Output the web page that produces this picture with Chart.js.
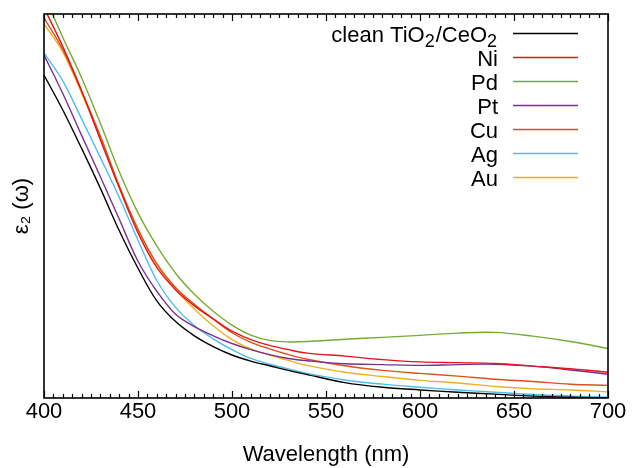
<!DOCTYPE html>
<html>
<head>
<meta charset="utf-8">
<script src="https://cdn.jsdelivr.net/npm/chart.js@4"></script>
<style>
  html, body { margin: 0; padding: 0; background: #fff; }
</style>
</head>
<body>
<canvas id="eps2Chart" width="632" height="468"></canvas>
<script>
// values (y in arbitrary units, axis has no labels)
const wavelength = [400, 410, 420, 430, 440, 450, 460, 470, 480, 490, 500, 510, 520, 530, 540, 560, 580, 600, 620, 640, 660, 680, 700];
const clean = [84.1, 75.0, 65.0, 54.6, 43.6, 33.8, 25.3, 19.9, 16.2, 13.4, 11.2, 9.6, 8.4, 7.2, 6.1, 4.0, 2.8, 2.1, 1.5, 1.0, 0.5, 0.2, 0.0];
const ni = [101.6, 91.5, 80.0, 67.2, 54.8, 43.0, 34.0, 28.2, 24.0, 20.6, 17.4, 15.2, 13.7, 12.6, 11.7, 10.9, 10.0, 9.4, 9.2, 9.0, 8.3, 7.6, 6.7];
const pd = [105.0, 93.9, 83.4, 71.5, 59.0, 48.2, 39.6, 32.5, 27.0, 22.6, 19.0, 16.4, 15.0, 14.6, 14.7, 15.3, 15.8, 16.3, 16.9, 17.1, 16.1, 14.7, 12.9];
const pt = [89.3, 79.3, 68.4, 57.6, 46.6, 35.6, 27.8, 21.8, 18.6, 16.2, 14.2, 12.6, 11.3, 10.3, 9.7, 8.9, 8.7, 8.5, 8.7, 8.8, 8.3, 7.3, 6.2];
const cu = [99.0, 90.7, 79.9, 68.2, 55.3, 44.0, 35.0, 28.8, 24.4, 20.6, 17.0, 14.5, 12.8, 11.3, 10.1, 8.4, 7.2, 6.4, 5.7, 4.9, 4.3, 3.6, 3.3];
const ag = [89.9, 82.6, 72.7, 62.6, 52.3, 41.1, 30.6, 23.6, 18.9, 15.4, 12.6, 10.3, 8.8, 7.6, 6.4, 4.7, 3.6, 2.8, 2.1, 1.5, 0.9, 0.5, 0.2];
const au = [97.4, 90.1, 79.4, 67.7, 54.8, 43.6, 34.8, 28.2, 23.2, 18.8, 15.2, 12.8, 11.2, 9.8, 8.5, 6.7, 5.6, 4.6, 3.9, 3.0, 2.4, 2.1, 1.6];
const xTicks = [400, 450, 500, 550, 600, 650, 700];

const FONT = '"Liberation Sans", Arial, Helvetica, sans-serif';

function line(label, values, color) {
    return {
        label: label,
        data: wavelength.map((w, i) => ({ x: w, y: values[i] })),
        borderColor: color,
        borderWidth: 1.4,
        pointRadius: 0,
        fill: false,
        tension: 0.35
    };
}

// text with "_x" as subscript, right aligned at xr
function drawRich(ctx, text, xr, y, size) {
    const parts = [];
    let buf = "";
    for (let i = 0; i < text.length; i++) {
        if (text[i] === "_") {
            if (buf) parts.push({ t: buf, sub: false });
            buf = "";
            parts.push({ t: text[i + 1], sub: true });
            i++;
        } else {
            buf += text[i];
        }
    }
    if (buf) parts.push({ t: buf, sub: false });
    const subSize = Math.round(size * 0.8);
    let w = 0;
    parts.forEach(p => {
        ctx.font = (p.sub ? subSize : size) + "px " + FONT;
        p.w = ctx.measureText(p.t).width + (p.sub ? 1 : 0);
        w += p.w;
    });
    let x = xr - w;
    ctx.textAlign = "left";
    ctx.textBaseline = "alphabetic";
    parts.forEach(p => {
        ctx.font = (p.sub ? subSize : size) + "px " + FONT;
        ctx.fillText(p.t, x, y + (p.sub ? size * 0.25 : 0));
        x += p.w;
    });
}

const framePlugin = {
    id: "frame",
    afterDraw(chart) {
        const ctx = chart.ctx;
        const a = chart.chartArea;
        const xs = chart.scales.x;
        ctx.save();
        ctx.strokeStyle = "#000";
        ctx.lineWidth = 1.2;
        // inward ticks, bottom and top
        for (let v = xs.min; v <= xs.max; v += 5) {
            const px = Math.round(xs.getPixelForValue(v)) + 0.5;
            const len = (v % 50 === 0) ? 7 : 4;
            ctx.beginPath();
            ctx.moveTo(px, a.bottom);
            ctx.lineTo(px, a.bottom - len);
            ctx.moveTo(px, a.top);
            ctx.lineTo(px, a.top + len);
            ctx.stroke();
        }
        ctx.lineWidth = 1.6;
        ctx.strokeRect(a.left, a.top, a.right - a.left, a.bottom - a.top);

        // key, text left of the samples like gnuplot
        chart.data.datasets.forEach((ds, i) => {
            const y = a.top + 19.5 + i * 24;
            ctx.fillStyle = "#000";
            drawRich(ctx, ds.label, a.right - 110, y + 8, 22);
            ctx.strokeStyle = ds.borderColor;
            ctx.lineWidth = 1.4;
            ctx.beginPath();
            ctx.moveTo(a.right - 95, y);
            ctx.lineTo(a.right - 30, y);
            ctx.stroke();
        });
        ctx.restore();
    }
};

new Chart(document.getElementById("eps2Chart"), {
    type: "line",
    data: {
        datasets: [
            line("clean TiO_2/CeO_2", clean, "#000000"),
            line("Ni", ni, "#e8141c"),
            line("Pd", pd, "#77ac30"),
            line("Pt", pt, "#7e2f8e"),
            line("Cu", cu, "#d95319"),
            line("Ag", ag, "#4dbeee"),
            line("Au", au, "#edb120")
        ]
    },
    options: {
        responsive: false,
        animation: false,
        devicePixelRatio: 1,
        layout: { padding: { top: 14, right: 24, bottom: 0, left: 0 } },
        plugins: {
            legend: { display: false },
            tooltip: { enabled: false }
        },
        scales: {
            x: {
                type: "linear",
                min: 400,
                max: 700,
                afterBuildTicks: s => { s.ticks = xTicks.map(v => ({ value: v })); },
                afterFit: s => { s.height = 70; },
                grid: { display: false, drawTicks: false },
                border: { display: false },
                ticks: {
                    color: "#000",
                    padding: 1,
                    maxRotation: 0,
                    font: { family: FONT, size: 22 }
                },
                title: {
                    display: true,
                    text: "Wavelength (nm)",
                    color: "#000",
                    padding: { top: 0, bottom: 0 },
                    font: { family: FONT, size: 22 }
                }
            },
            y: {
                min: 0,
                max: 100,
                afterFit: s => { s.width = 44; },
                grid: { display: false, drawTicks: false },
                border: { display: false },
                ticks: { display: false },
                title: {
                    display: true,
                    text: "ε₂ (ω)",
                    color: "#000",
                    padding: { top: 9, bottom: 0 },
                    font: { family: FONT, size: 22 }
                }
            }
        }
    },
    plugins: [framePlugin]
});
</script>
</body>
</html>
